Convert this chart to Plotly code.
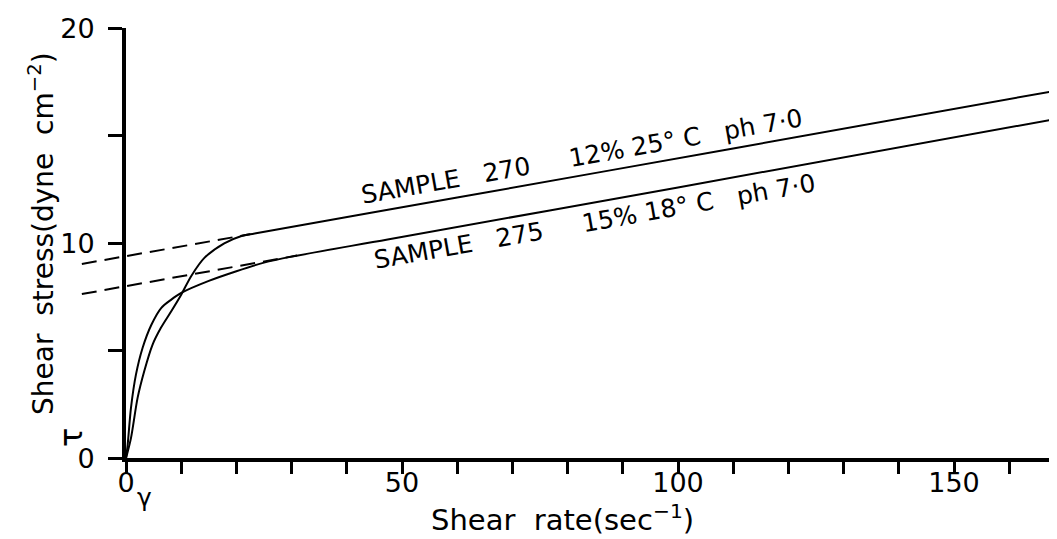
import plotly.graph_objects as go

W, H = 1057, 539

# ---- data ----
s270_x = [0, 0.9, 2.1, 3.3, 4.8, 6.3, 8.2, 10.0, 11.8, 14.2, 17.8, 20.8, 23.3, 60, 110, 168.5]
s270_y = [0, 0.94, 2.81, 4.05, 5.28, 6.06, 6.84, 7.61, 8.47, 9.32, 10.0, 10.33, 10.46, 12.13, 14.41, 17.1]

s275_x = [0, 0.3, 0.9, 1.8, 3.0, 4.6, 6.4, 8.2, 10.0, 15, 20, 25, 30, 47.4, 100, 168.8]
s275_y = [0, 0.63, 2.34, 3.89, 5.13, 6.21, 7.0, 7.38, 7.69, 8.25, 8.7, 9.1, 9.38, 10.18, 12.6, 15.8]

dash270_x = [-8.0, 22.5]
dash270_y = [9.04, 10.42]
dash275_x = [-8.0, 31.0]
dash275_y = [7.64, 9.43]

x_tickvals = [0, 10, 20, 30, 40, 50, 60, 70, 80, 90, 100, 110, 120, 130, 140, 150, 160]
x_ticktext = ["0", "", "", "", "", "50", "", "", "", "", "100", "", "", "", "", "150", ""]
y_tickvals = [0, 5, 10, 15, 20]
y_ticktext = ["0", "", "10", "", "20"]

NB = "\u00a0"
label270 = "SAMPLE" + NB * 3 + "270" + NB * 5 + "12%" + NB + "25°" + NB + "C" + NB * 3 + "ph" + NB + "7·0"
label275 = "SAMPLE" + NB * 3 + "275" + NB * 5 + "15%" + NB + "18°" + NB + "C" + NB * 3 + "ph" + NB + "7·0"

FONT = "DejaVu Sans"
PXU_X = 5.52   # pixels per x unit
X0 = 118       # pixel of x = 0
XL2 = 70       # left pixel of the wide (dash) panel

fig = go.Figure()

line = dict(color="black", width=2)
fig.add_trace(go.Scatter(x=s270_x, y=s270_y, mode="lines", line=dict(line, shape="spline", smoothing=0.8),
                         xaxis="x", yaxis="y", hoverinfo="skip"))
fig.add_trace(go.Scatter(x=s275_x, y=s275_y, mode="lines", line=dict(line, shape="spline", smoothing=0.8),
                         xaxis="x", yaxis="y", hoverinfo="skip"))
fig.add_trace(go.Scatter(x=dash270_x, y=dash270_y, mode="lines",
                         line=dict(color="black", width=2, dash="15px,8px"),
                         xaxis="x2", yaxis="y2", hoverinfo="skip"))
fig.add_trace(go.Scatter(x=dash275_x, y=dash275_y, mode="lines",
                         line=dict(color="black", width=2, dash="15px,8px"),
                         xaxis="x2", yaxis="y2", hoverinfo="skip"))

ydom = [(H - 450.3) / H, (H - 20.3) / H]
xmax = (W - X0) / PXU_X

fig.update_layout(
    width=W, height=H,
    margin=dict(l=0, r=0, t=0, b=0),
    paper_bgcolor="white", plot_bgcolor="rgba(0,0,0,0)",
    showlegend=False,
    font=dict(family=FONT, color="black"),
    xaxis=dict(domain=[X0 / W, 1], range=[0, xmax], anchor="y",
               showline=True, linewidth=4, linecolor="black",
               ticks="outside", ticklen=12, tickwidth=3, tickcolor="black",
               tickvals=x_tickvals, ticktext=x_ticktext, ticklabelstandoff=-15,
               tickfont=dict(family=FONT, size=27, color="black"),
               showgrid=False, zeroline=False, automargin=False, fixedrange=True),
    yaxis=dict(domain=ydom, range=[0, 20], anchor="x",
               showline=True, linewidth=4, linecolor="black",
               ticks="outside", ticklen=14, tickwidth=3, tickcolor="black",
               tickvals=y_tickvals, ticktext=y_ticktext, ticklabelstandoff=8,
               tickfont=dict(family=FONT, size=27, color="black"),
               showgrid=False, zeroline=False, automargin=False, fixedrange=True),
    xaxis2=dict(domain=[XL2 / W, 1], range=[(XL2 - X0) / PXU_X, xmax], anchor="y2",
                visible=False, fixedrange=True),
    yaxis2=dict(domain=ydom, range=[0, 20], anchor="x2", visible=False, fixedrange=True),
)

ann = []
# curve labels along the lines
ann.append(dict(x=82.6, y=14.05, xref="x", yref="y", text=label270, showarrow=False,
                textangle=-10, font=dict(family=FONT, size=25, color="black"),
                xanchor="center", yanchor="middle"))
ann.append(dict(x=85.0, y=11.0, xref="x", yref="y", text=label275, showarrow=False,
                textangle=-10, font=dict(family=FONT, size=25, color="black"),
                xanchor="center", yanchor="middle"))
# axis titles
ann.append(dict(x=554 / W, y=1 - 510 / H, xref="paper", yref="paper",
                text="Shear" + NB * 2 + "rate(sec<sup>−1</sup>)", showarrow=False,
                font=dict(family=FONT, size=29, color="black"),
                xanchor="center", yanchor="middle"))
ann.append(dict(x=33 / W, y=1 - 226 / H, xref="paper", yref="paper",
                text="Shear" + NB * 2 + "stress(dyne" + NB * 2 + "cm<sup>−2</sup>)", showarrow=False,
                textangle=-90, font=dict(family=FONT, size=28, color="black"),
                xanchor="center", yanchor="middle"))
# symbols
ann.append(dict(x=63 / W, y=1 - 430 / H, xref="paper", yref="paper", text="τ",
                showarrow=False, textangle=-90, font=dict(family=FONT, size=32, color="black"),
                xanchor="center", yanchor="middle"))
ann.append(dict(x=136 / W, y=1 - 489 / H, xref="paper", yref="paper", text="γ",
                showarrow=False, font=dict(family=FONT, size=25, color="black"),
                xanchor="center", yanchor="middle"))
fig.update_layout(annotations=ann)

fig.write_html("out.html", config={"displayModeBar": False})
